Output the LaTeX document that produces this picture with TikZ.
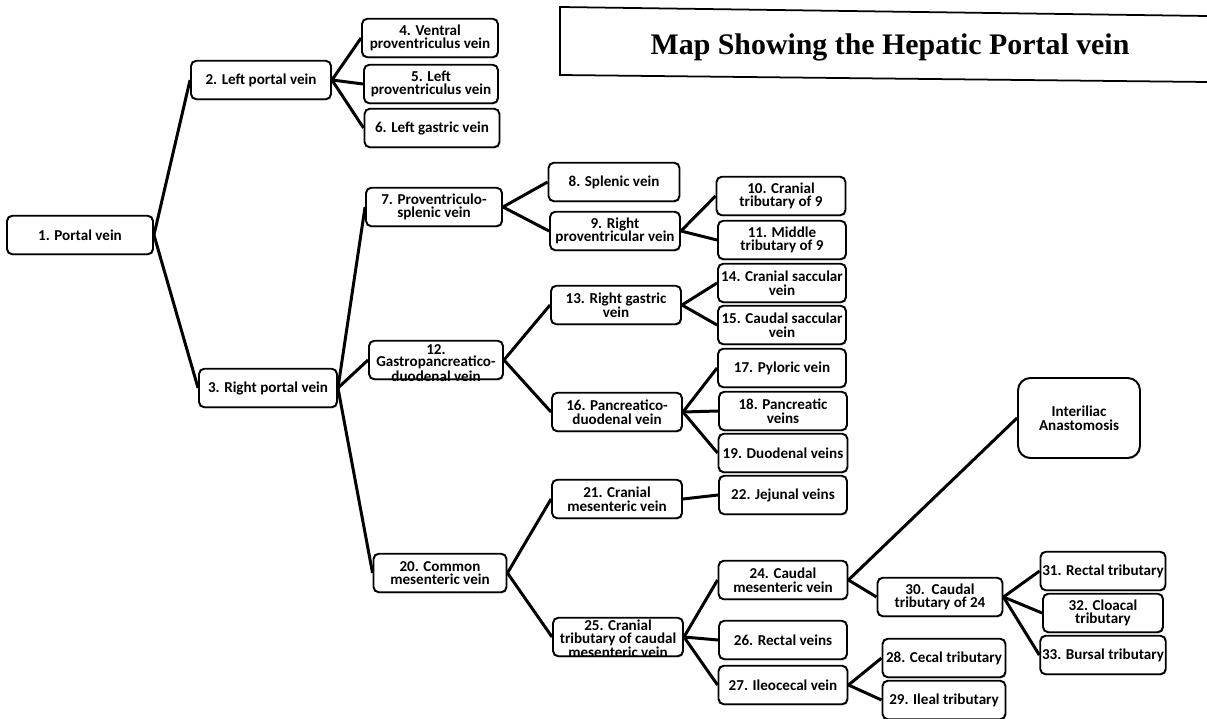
\documentclass[tikz,border=0pt]{standalone}
\usepackage{fontspec}
\usepackage{tikz}
\usetikzlibrary{positioning}
\usetikzlibrary{shadows}
\newfontfamily\boxfont{Carlito}
\newfontfamily\titlefont{Liberation Serif}
\tikzset{
	every node/.style={align=center},
	vein/.style={draw, rounded corners=3pt, line width=1.1pt, fill=white,
		minimum width=#1, minimum height=0.77cm, inner sep=1pt,
		font=\boxfont\bfseries\fontsize{8.6}{7.8}\selectfont,
		drop shadow={shadow xshift=0.4pt, shadow yshift=-0.7pt, opacity=0.55}},
	big/.style={vein=2.44cm, minimum height=1.6cm, rounded corners=7pt},
	tight/.style={inner sep=0pt, font=\boxfont\bfseries\fontsize{8.6}{7.2}\selectfont},
	link/.style={line width=1.7pt},
	heading/.style={font=\titlefont\bfseries\fontsize{17}{20}\selectfont}
}

\begin{document}
\begin{tikzpicture}[x=0.02cm, y=-0.02cm]
	\useasboundingbox (0,0) rectangle (1207,719);

	% title
	\draw[line width=1pt] (1207,16) -- (560,7) -- (560,75) -- (1207,82);
	\node (title) [heading] at (890,47) {Map Showing the Hepatic Portal vein};

	% first levels
	\node (pv) [vein=2.92cm] at (80,235) {1. Portal vein};
	\node (lpv) [vein=2.8cm] at (261,80) {2. Left portal vein};
	\node (rpv) [vein=2.76cm] at (268,388) {3. Right portal vein};

	\node (vpv) [vein=2.72cm] at (430,38) {4. Ventral\\proventriculus vein};
	\node (lprv) [vein=2.68cm] at (431,84) {5. Left\\proventriculus vein};
	\node (lgv) [vein=2.7cm] at (432,128) {6. Left gastric vein};

	\node (pvs) [vein=2.72cm] at (434,207) {7. Proventriculo-\\splenic vein};
	\node (gpd) [vein=2.68cm] at (436,360) {};
	\node (gpd text) [tight] at (436,363) {12.\\Gastropancreatico-\\duodenal vein};
	\node (cmv) [vein=2.66cm] at (440,573) {20. Common\\mesenteric vein};

	% proventriculo-splenic branch
	\node (spv) [vein=2.62cm] at (614,182) {8. Splenic vein};
	\node (rprv) [vein=2.6cm] at (615,231) {9. Right\\proventricular vein};
	\node (ct9) [vein=2.58cm] at (781,196) {10. Cranial\\tributary of 9};
	\node (mt9) [vein=2.56cm] at (782,240) {11. Middle\\tributary of 9};

	% gastropancreaticoduodenal branch
	\node (rgv) [vein=2.6cm] at (616,305) {13. Right gastric\\vein};
	\node (ccs) [vein=2.56cm] at (782,283) {14. Cranial saccular\\vein};
	\node (cds) [vein=2.56cm] at (782,325) {15. Caudal saccular\\vein};
	\node (pdv) [vein=2.6cm] at (617,412) {16. Pancreatico-\\duodenal vein};
	\node (plv) [vein=2.56cm] at (782,368) {17. Pyloric vein};
	\node (pcv) [vein=2.56cm] at (783,411) {18. Pancreatic\\veins};
	\node (ddv) [vein=2.58cm] at (783,453) {19. Duodenal veins};

	% mesenteric branch
	\node (crm) [vein=2.6cm] at (617,499) {21. Cranial\\mesenteric vein};
	\node (jjv) [vein=2.56cm] at (783,495) {22. Jejunal veins};
	\node (ctc) [vein=2.6cm] at (618,637) {};
	\node (ctc text) [tight] at (618,639) {25. Cranial\\tributary of caudal\\mesenteric vein};
	\node (cdm) [vein=2.58cm] at (783,580) {24. Caudal\\mesenteric vein};
	\node (rcv) [vein=2.56cm] at (783,640) {26. Rectal veins};
	\node (icv) [vein=2.58cm] at (783,685) {27. Ileocecal vein};

	\node (iia) [big] at (1079,418) {Interiliac\\Anastomosis};
	\node (ct24) [vein=2.5cm] at (940,597) {30.\ \ Caudal\\tributary of 24};
	\node (rct) [vein=2.4cm] at (1103,571) {31. Rectal tributary};
	\node (clt) [vein=2.4cm] at (1103,613) {32. Cloacal\\tributary};
	\node (bst) [vein=2.4cm] at (1103,655) {33. Bursal tributary};
	\node (cct) [vein=2.46cm] at (944,658) {28. Cecal tributary};
	\node (ilt) [vein=2.46cm] at (944,700) {29. Ileal tributary};

	% connectors
	\foreach \a/\b in {pv/lpv, pv/rpv, lpv/vpv, lpv/lprv, lpv/lgv,
		rpv/pvs, rpv/gpd, rpv/cmv, pvs/spv, pvs/rprv, rprv/ct9, rprv/mt9,
		gpd/rgv, gpd/pdv, rgv/ccs, rgv/cds, pdv/plv, pdv/pcv, pdv/ddv,
		cmv/crm, cmv/ctc, crm/jjv, ctc/cdm, ctc/rcv, ctc/icv,
		cdm/iia, cdm/ct24, ct24/rct, ct24/clt, ct24/bst, icv/cct, icv/ilt}
		\draw[link] (\a.east) -- (\b.west);

\end{tikzpicture}
\end{document}
